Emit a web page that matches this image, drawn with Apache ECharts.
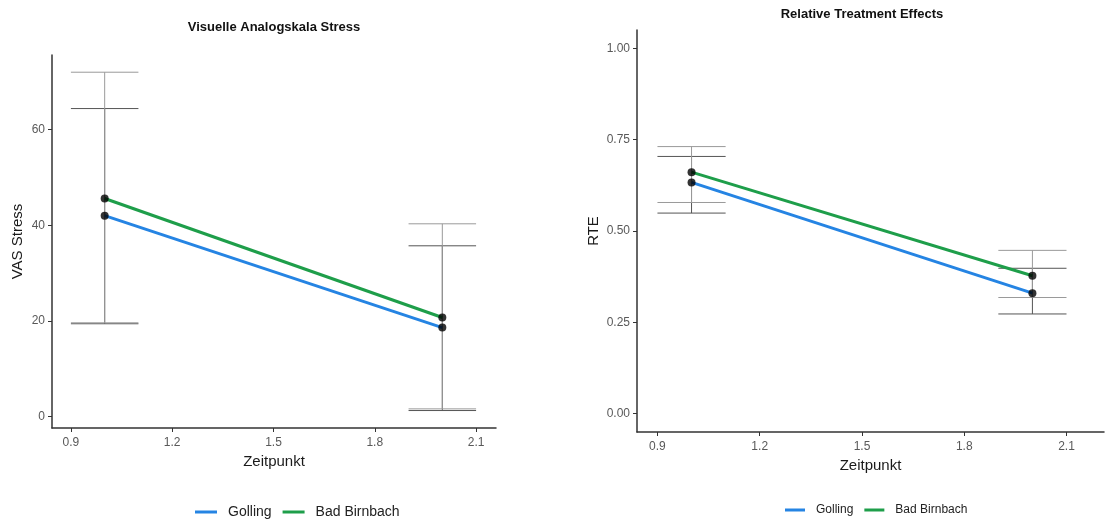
<!DOCTYPE html>
<html>
<head>
<meta charset="utf-8">
<script src="https://cdn.jsdelivr.net/npm/echarts@6/dist/echarts.min.js"></script>
<style>
  html, body { margin: 0; padding: 0; background: #fff; }
  #chart { width: 1107px; height: 520px; }
</style>
</head>
<body>
<div id="chart"></div>
<script>
// Measurement time points
const zeitpunkte = [1, 2];

// Visual analogue scale, stress: means and interval bounds per site
const vasGolling = [42.0, 18.6];
const vasGollingLow = [19.4, 1.25];
const vasGollingHigh = [64.4, 35.7];
const vasBadBirnbach = [45.6, 20.7];
const vasBadBirnbachLow = [19.6, 1.6];
const vasBadBirnbachHigh = [72.0, 40.3];

// Relative treatment effects: estimates and interval bounds per site
const rteGolling = [0.633, 0.330];
const rteGollingLow = [0.549, 0.273];
const rteGollingHigh = [0.704, 0.398];
const rteBadBirnbach = [0.661, 0.3775];
const rteBadBirnbachLow = [0.578, 0.318];
const rteBadBirnbachHigh = [0.731, 0.447];

// Tick labels
const xTicks = [0.9, 1.2, 1.5, 1.8, 2.1];
const vasTicks = [0, 20, 40, 60];
const rteTicks = [0, 0.25, 0.5, 0.75, 1.0];

const siteNames = ['Golling', 'Bad Birnbach'];

const FONT = '"Liberation Sans", Arial, Helvetica, sans-serif';
const BLUE = '#2584E3';
const GREEN = '#1E9E4A';
const CAP_HALF = 0.1;

const pairs = (ys) => zeitpunkte.map((x, i) => [x, ys[i]]);
const bars = (lo, hi) => zeitpunkte.map((x, i) => [x, lo[i], hi[i]]);

function errorBarItem(params, api) {
  const x = api.value(0), lo = api.value(1), hi = api.value(2);
  const top = api.coord([x, hi]);
  const bot = api.coord([x, lo]);
  const l = api.coord([x - CAP_HALF, hi])[0];
  const r = api.coord([x + CAP_HALF, hi])[0];
  const style = { stroke: api.visual('color'), lineWidth: 1 };
  return {
    type: 'group',
    children: [
      { type: 'line', shape: { x1: top[0], y1: top[1], x2: bot[0], y2: bot[1] }, style },
      { type: 'line', shape: { x1: l, y1: top[1], x2: r, y2: top[1] }, style },
      { type: 'line', shape: { x1: l, y1: bot[1], x2: r, y2: bot[1] }, style }
    ]
  };
}

function xAxisFor(gridIndex, min, max, margin) {
  return {
    type: 'value', gridIndex, min, max,
    name: 'Zeitpunkt', nameLocation: 'middle', nameGap: 26,
    nameTextStyle: { fontFamily: FONT, fontSize: 15, color: '#1a1a1a' },
    splitLine: { show: false },
    axisLine: { show: true, onZero: false, lineStyle: { color: '#333', width: 1.5 } },
    axisTick: { show: true, length: 4, customValues: xTicks, lineStyle: { color: '#333' } },
    axisLabel: {
      customValues: xTicks, margin, fontFamily: FONT, fontSize: 12, color: '#595959',
      formatter: (v) => v.toFixed(1)
    }
  };
}

function yAxisFor(gridIndex, min, max, ticks, name, gap, digits) {
  return {
    type: 'value', gridIndex, min, max,
    name, nameLocation: 'middle', nameGap: gap, nameRotate: 90,
    nameTextStyle: { fontFamily: FONT, fontSize: 15, color: '#1a1a1a' },
    splitLine: { show: false },
    axisLine: { show: true, onZero: false, lineStyle: { color: '#333', width: 1.5 } },
    axisTick: { show: true, length: 4, customValues: ticks, lineStyle: { color: '#333' } },
    axisLabel: {
      customValues: ticks, margin: 7, fontFamily: FONT, fontSize: 12, color: '#595959',
      formatter: (v) => v.toFixed(digits)
    }
  };
}

function panelSeries(idx, g, gLo, gHi, b, bLo, bHi) {
  const ax = { xAxisIndex: idx, yAxisIndex: idx };
  return [
    { type: 'custom', name: 'Golling KI', ...ax, renderItem: errorBarItem,
      encode: { x: 0, y: [1, 2] }, itemStyle: { color: '#555' }, data: bars(gLo, gHi), z: 1, silent: true },
    { type: 'custom', name: 'Bad Birnbach KI', ...ax, renderItem: errorBarItem,
      encode: { x: 0, y: [1, 2] }, itemStyle: { color: '#9a9a9a' }, data: bars(bLo, bHi), z: 1, silent: true },
    { type: 'line', name: 'Golling', ...ax, data: pairs(g), color: BLUE, showSymbol: false,
      lineStyle: { width: 3, color: BLUE }, z: 2, animation: false },
    { type: 'line', name: 'Bad Birnbach', ...ax, data: pairs(b), color: GREEN, showSymbol: false,
      lineStyle: { width: 3, color: GREEN }, z: 2, animation: false },
    { type: 'scatter', name: 'Golling Mittelwert', ...ax, data: pairs(g), symbolSize: 8,
      itemStyle: { color: '#000' }, z: 3 },
    { type: 'scatter', name: 'Bad Birnbach Mittelwert', ...ax, data: pairs(b), symbolSize: 8,
      itemStyle: { color: '#000' }, z: 3 }
  ];
}

function legendFor(left, top, fontSize, width) {
  return {
    data: siteNames.map((n) => ({ name: n, icon: 'rect' })),
    left, top, orient: 'horizontal',
    itemWidth: width, itemHeight: 3, itemGap: 11,
    textStyle: { fontFamily: FONT, fontSize, color: '#222', padding: [0, 0, 0, 6] },
    selectedMode: false
  };
}

const chart = echarts.init(document.getElementById('chart'), null, { renderer: 'canvas' });
chart.setOption({
  backgroundColor: '#fff',
  animation: false,
  graphic: [
    { type: 'text', x: 274, y: 27, style: { text: 'Visuelle Analogskala Stress', fontFamily: FONT,
      fontSize: 13, fontWeight: 'bold', fill: '#111', textAlign: 'center', textVerticalAlign: 'middle' } },
    { type: 'text', x: 862, y: 14, style: { text: 'Relative Treatment Effects', fontFamily: FONT,
      fontSize: 13, fontWeight: 'bold', fill: '#111', textAlign: 'center', textVerticalAlign: 'middle' } }
  ],
  grid: [
    { left: 52, top: 55, width: 444, height: 373 },
    { left: 637, top: 30, width: 467, height: 402 }
  ],
  xAxis: [xAxisFor(0, 0.844, 2.159, 9), xAxisFor(1, 0.84, 2.21, 9)],
  yAxis: [
    yAxisFor(0, -2.4, 75.6, vasTicks, 'VAS Stress', 27, 0),
    yAxisFor(1, -0.05, 1.05, rteTicks, 'RTE', 36, 2)
  ],
  legend: [legendFor(190, 500, 14, 22), legendFor(780, 499, 12, 20)],
  series: [
    ...panelSeries(0, vasGolling, vasGollingLow, vasGollingHigh, vasBadBirnbach, vasBadBirnbachLow, vasBadBirnbachHigh),
    ...panelSeries(1, rteGolling, rteGollingLow, rteGollingHigh, rteBadBirnbach, rteBadBirnbachLow, rteBadBirnbachHigh)
  ]
});
</script>
</body>
</html>
